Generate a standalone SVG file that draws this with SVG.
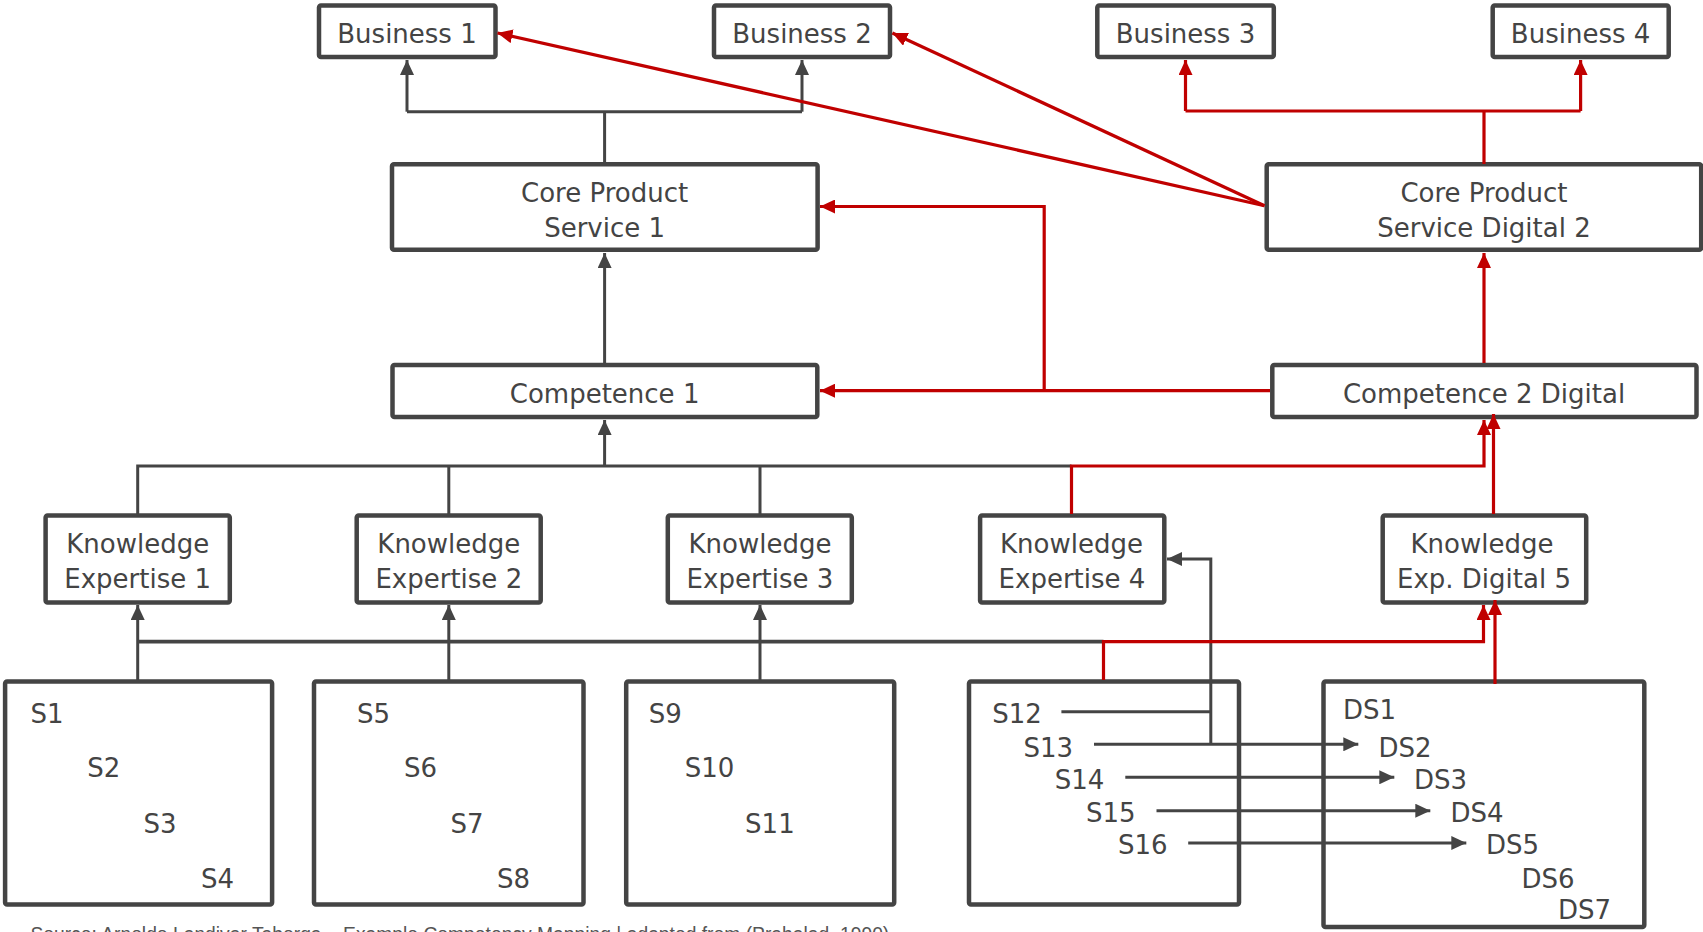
<svg xmlns="http://www.w3.org/2000/svg" width="1703" height="932" viewBox="0 0 1703 932">
<defs>
<style>
.box{fill:#fff;stroke:#444;stroke-width:4.5;stroke-linejoin:round}
.t{font-family:"DejaVu Sans","Liberation Sans",sans-serif;font-size:26px;fill:#444}
.c{text-anchor:middle}
.dk{fill:none;stroke:#444;stroke-width:3}
.rd{fill:none;stroke:#C00000;stroke-width:3.2}
.ad{marker-end:url(#ahd)}
.ar{marker-end:url(#ahr)}
.cap{font-family:"Liberation Sans",Arial,sans-serif;font-size:19.3px;fill:#555}
</style>
<marker id="ahd" markerUnits="userSpaceOnUse" markerWidth="16" markerHeight="14" viewBox="0 0 16 14" refX="15" refY="7" orient="auto"><path d="M0,0 L15,7 L0,14 Z" fill="#444"/></marker>
<marker id="ahr" markerUnits="userSpaceOnUse" markerWidth="16" markerHeight="14" viewBox="0 0 16 14" refX="15" refY="7" orient="auto"><path d="M0,0 L15,7 L0,14 Z" fill="#C00000"/></marker>
</defs>
<rect width="1703" height="932" fill="#fff"/>

<g id="business1"><rect class="box" x="319" y="5.5" width="176.5" height="51.5" rx="2"/><text class="t c" x="407" y="42.7">Business 1</text></g>
<g id="business2"><rect class="box" x="714" y="5.5" width="176" height="51.5" rx="2"/><text class="t c" x="802" y="42.7">Business 2</text></g>
<g id="business3"><rect class="box" x="1097.3" y="5.5" width="176.5" height="51.5" rx="2"/><text class="t c" x="1185.5" y="42.7">Business 3</text></g>
<g id="business4"><rect class="box" x="1492.7" y="5.5" width="176" height="51.5" rx="2"/><text class="t c" x="1580.6" y="42.7">Business 4</text></g>

<g id="core1"><rect class="box" x="392" y="164.3" width="425.6" height="85.5" rx="2"/><text class="t c" x="604.6" y="202">Core Product</text><text class="t c" x="604.6" y="236.7">Service 1</text></g>
<g id="core2"><rect class="box" x="1266.7" y="164.3" width="434.5" height="85.5" rx="2"/><text class="t c" x="1484" y="201.7">Core Product</text><text class="t c" x="1484" y="236.7">Service Digital 2</text></g>

<g id="comp1"><rect class="box" x="392.5" y="365" width="424.8" height="52" rx="2"/><text class="t c" x="604.6" y="402.7">Competence 1</text></g>
<g id="comp2"><rect class="box" x="1272.3" y="365" width="424.2" height="52" rx="2"/><text class="t c" x="1484" y="402.7">Competence 2 Digital</text></g>

<g id="ke1"><rect class="box" x="45.6" y="515.5" width="184.2" height="87" rx="2"/><text class="t c" x="137.7" y="553.3">Knowledge</text><text class="t c" x="137.7" y="588.3">Expertise 1</text></g>
<g id="ke2"><rect class="box" x="356.7" y="515.5" width="184" height="87" rx="2"/><text class="t c" x="448.8" y="553.3">Knowledge</text><text class="t c" x="448.8" y="588.3">Expertise 2</text></g>
<g id="ke3"><rect class="box" x="667.8" y="515.5" width="184" height="87" rx="2"/><text class="t c" x="760" y="553.3">Knowledge</text><text class="t c" x="760" y="588.3">Expertise 3</text></g>
<g id="ke4"><rect class="box" x="980.1" y="515.5" width="184.2" height="87" rx="2"/><text class="t c" x="1071.5" y="553.3">Knowledge</text><text class="t c" x="1072" y="588.3">Expertise 4</text></g>
<g id="ke5"><rect class="box" x="1382.7" y="515.5" width="203.5" height="87" rx="2"/><text class="t c" x="1482" y="553.3">Knowledge</text><text class="t c" x="1484" y="588.3">Exp. Digital 5</text></g>

<g id="skills1"><rect class="box" x="5.1" y="681.5" width="267" height="223" rx="2"/>
<text class="t" x="30.4" y="723.3">S1</text><text class="t" x="87.3" y="777.3">S2</text><text class="t" x="143.5" y="832.7">S3</text><text class="t" x="200.9" y="888">S4</text></g>
<g id="skills2"><rect class="box" x="314" y="681.5" width="269.5" height="223" rx="2"/>
<text class="t" x="357" y="723.3">S5</text><text class="t" x="404" y="777.3">S6</text><text class="t" x="450.6" y="832.7">S7</text><text class="t" x="497.1" y="888">S8</text></g>
<g id="skills3"><rect class="box" x="626.2" y="681.5" width="268" height="223" rx="2"/>
<text class="t" x="648.7" y="723.3">S9</text><text class="t" x="684.8" y="777.3">S10</text><text class="t" x="745.1" y="832.7">S11</text></g>
<g id="skills4"><rect class="box" x="969" y="681.5" width="270" height="223" rx="2"/>
<text class="t" x="992.3" y="723.3">S12</text><text class="t" x="1023.5" y="756.7">S13</text><text class="t" x="1054.7" y="788.7">S14</text><text class="t" x="1085.9" y="821.7">S15</text><text class="t" x="1118" y="854">S16</text></g>
<g id="digitalskills"><rect class="box" x="1323.5" y="681.5" width="320.8" height="245.5" rx="2"/>
<text class="t" x="1342.9" y="719">DS1</text><text class="t" x="1378.4" y="756.7">DS2</text><text class="t" x="1414" y="788.7">DS3</text><text class="t" x="1450.5" y="821.7">DS4</text><text class="t" x="1486" y="854">DS5</text><text class="t" x="1521.6" y="887.7">DS6</text><text class="t" x="1558" y="919.3">DS7</text></g>

<g id="connectors">
<path class="dk" d="M604.6,164 V111.7 M407,111.7 H802"/>
<path class="dk ad" d="M407,111.7 V60"/>
<path class="dk ad" d="M802,111.7 V60"/>
<path class="dk ad" d="M604.6,363 V253"/>
<path class="dk ad" d="M604.6,466 V420"/>
<path class="dk" d="M137.7,514 V466 H1071.5 M448.8,514 V466 M760,514 V466"/>
<path class="dk ad" d="M137.7,680 V605"/>
<path class="dk ad" d="M448.8,680 V605"/>
<path class="dk ad" d="M760,680 V605"/>
<path class="dk" style="stroke-width:3.8" d="M137.7,641.7 H1103.5"/>
<path class="dk" d="M1061.4,711.7 H1210.8"/>
<path class="dk ad" d="M1210.8,744.3 V559 H1167"/>
<path class="dk ad" d="M1094,744.3 H1358.3"/>
<path class="dk ad" d="M1125.3,777.3 H1394.3"/>
<path class="dk ad" d="M1156.5,810.7 H1430.3"/>
<path class="dk ad" d="M1188.2,843 H1466.3"/>
<path class="rd ar" d="M1264.5,205.7 L497.5,33"/>
<path class="rd ar" d="M1264.5,205.7 L892.4,33"/>
<path class="rd" d="M1484,164 V111 M1185.5,111 H1580.6"/>
<path class="rd ar" d="M1185.5,111 V60"/>
<path class="rd ar" d="M1580.6,111 V60"/>
<path class="rd ar" d="M1484,363 V253"/>
<path class="rd ar" d="M1270,390.7 H820"/>
<path class="rd ar" d="M1044.2,390.7 V206.5 H820"/>
<path class="rd ar" d="M1071.5,514 V466 H1484 V420"/>
<path class="rd ar" d="M1493.5,514 V414"/>
<path class="rd ar" d="M1103.5,680 V641.7 H1483.5 V605"/>
<path class="rd ar" d="M1495,684 V600"/>
</g>

<text class="cap" x="30.4" y="941">Source: Arnoldo Landivar Taborga – Example Competency Mapping | adapted from (Prahalad, 1990)</text>
</svg>
